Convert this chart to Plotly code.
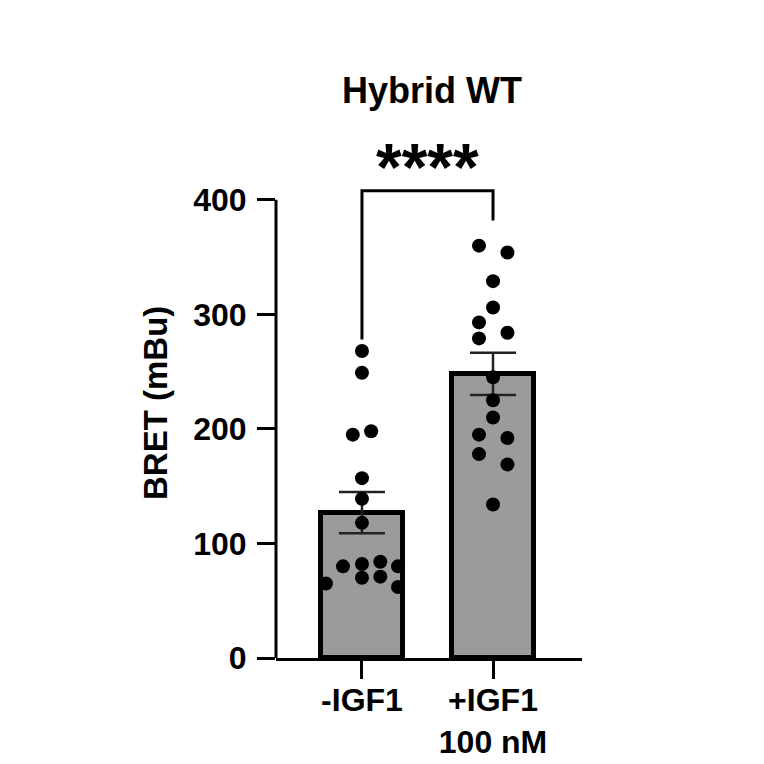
import plotly.graph_objects as go

# ---- data ----
categories = ["-IGF1", "+IGF1<br>100 nM"]
cat_pos = [0, 1]
bar_means = [127, 248]
bar_sem = [18, 18.5]

minus_vals = [268, 249, 195, 198, 157, 139, 118, 80, 82, 84, 80, 70, 71, 65, 62]
minus_jitter = [0, 0, -0.07, 0.07, 0, 0, 0, -0.145, 0, 0.14, 0.275, 0, 0.14, -0.275, 0.275]
plus_vals = [360, 354, 329, 306, 293, 279, 284, 245, 225, 210, 195, 192, 178, 169, 134]
plus_jitter = [-0.107, 0.11, 0, 0, -0.107, -0.107, 0.11, 0, 0, 0, -0.107, 0.11, -0.107, 0.11, 0]

y_ticks = [0, 100, 200, 300, 400]
bracket_x = [0, 0, 1, 1]
bracket_y = [278, 408, 408, 382]
sig_label = "****"
title_text = "Hybrid WT"
y_title = "BRET (mBu)"

FONT = "Liberation Sans, Arial, sans-serif"

fig = go.Figure()

fig.add_trace(go.Bar(
    x=cat_pos, y=bar_means, width=0.626,
    marker=dict(color="#9b9b9b", line=dict(color="black", width=5)),
    error_y=dict(type="data", array=bar_sem, visible=True,
                 thickness=2.5, width=23, color="#222222"),
    showlegend=False, hoverinfo="skip",
))

fig.add_trace(go.Scatter(
    x=[cat_pos[0] + j for j in minus_jitter], y=minus_vals,
    mode="markers", marker=dict(color="black", size=14),
    showlegend=False, cliponaxis=False,
))
fig.add_trace(go.Scatter(
    x=[cat_pos[1] + j for j in plus_jitter], y=plus_vals,
    mode="markers", marker=dict(color="black", size=14),
    showlegend=False, cliponaxis=False,
))

# significance bracket
fig.add_trace(go.Scatter(
    x=bracket_x, y=bracket_y, mode="lines",
    line=dict(color="black", width=3),
    showlegend=False, hoverinfo="skip",
))

fig.update_layout(
    width=756, height=756,
    margin=dict(l=268, r=182, t=146, b=106, autoexpand=False),
    plot_bgcolor="white", paper_bgcolor="white",
    font=dict(family=FONT, color="black", size=32, weight="bold"),
    bargap=0,
)

fig.update_xaxes(
    range=[-0.656, 1.679],
    tickvals=cat_pos, ticktext=categories,
    showline=True, linecolor="black", linewidth=3,
    ticks="outside", ticklen=18, tickwidth=3, tickcolor="black",
    showgrid=False, zeroline=False, automargin=False,
    ticklabelstandoff=-6,
    tickfont=dict(family=FONT, size=32, weight="bold"),
)
fig.update_yaxes(
    range=[0, 440],
    tickvals=y_ticks,
    showline=False,
    ticks="outside", ticklen=18, tickwidth=3, tickcolor="black",
    showgrid=False, zeroline=False, automargin=False,
    ticklabelstandoff=4,
    tickfont=dict(family=FONT, size=32, weight="bold"),
)

# y axis line only up to 400
fig.add_shape(type="line", xref="paper", yref="y",
              x0=0, x1=0, y0=0, y1=y_ticks[-1],
              line=dict(color="black", width=3))

# title
fig.add_annotation(text=title_text, xref="paper", yref="paper",
                   x=0.51, y=(658 - 90) / 504, xanchor="center", yanchor="middle",
                   showarrow=False, font=dict(family=FONT, size=36, weight="bold"))
# y axis title
fig.add_annotation(text=y_title, xref="paper", yref="paper",
                   x=(155 - 276) / 306, y=(658 - 403) / 504,
                   xanchor="center", yanchor="middle", textangle=-90,
                   showarrow=False, font=dict(family=FONT, size=33, weight="bold"))
# stars
fig.add_annotation(text=sig_label, xref="x", yref="y",
                   x=0.5, y=429, xanchor="center", yanchor="middle",
                   showarrow=False, font=dict(family=FONT, size=66, weight="bold"))

fig.write_html("out.html")
